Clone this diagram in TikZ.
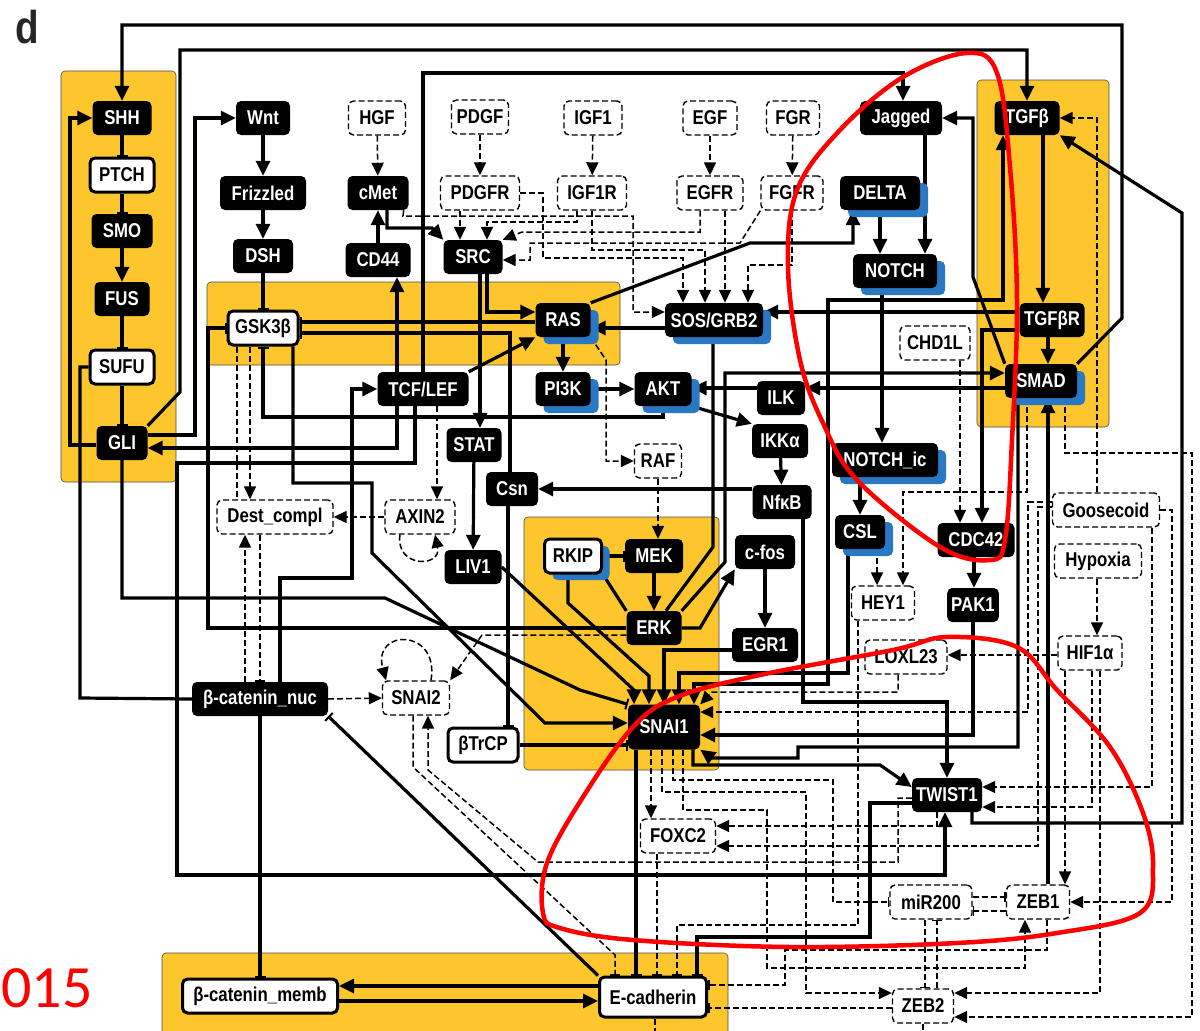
\documentclass[tikz,border=0pt]{standalone}
\usepackage{fontspec}
\setmainfont{Liberation Sans}[FakeStretch=0.84]
\newfontfamily\carl{Carlito}
\usetikzlibrary{arrows.meta,shadows}
\pgfdeclarelayer{bg}\pgfdeclarelayer{edges}\pgfdeclarelayer{fg}
\pgfsetlayers{bg,edges,main,fg}
\definecolor{yel}{RGB}{252,198,44}
\definecolor{shb}{RGB}{40,120,195}
\newcommand\nf{\fontsize{20}{20}\selectfont\bfseries}
\tikzset{
 box/.style={rounded corners=5pt, minimum height=34pt, inner xsep=4pt, inner ysep=0pt, font=\nf},
 blk/.style={box, fill=black, text=white},
 wht/.style={box, fill=white, draw=black, line width=3pt, text=black},
 dsh/.style={box, fill=white, draw=black, line width=1.4pt, dash pattern=on 6pt off 3pt, text=black},
 bsh/.style={drop shadow={shadow xshift=8pt, shadow yshift=-7pt, fill=shb, opacity=1}},
 arr/.style={line width=3.2pt, -{Triangle[length=15pt,width=14pt]}},
 arrtwo/.style={line width=3.2pt, {Triangle[length=15pt,width=14pt]}-{Triangle[length=15pt,width=14pt]}},
 lin/.style={line width=3.2pt},
 inhb/.style={line width=3.2pt, -{Bar[width=11pt,line width=2pt]}},
 darr/.style={line width=1.5pt, dash pattern=on 6pt off 3pt, -{Triangle[length=13pt,width=12pt]}},
 dlin/.style={line width=1.5pt, dash pattern=on 6pt off 3pt},
 dinh/.style={line width=1.5pt, dash pattern=on 6pt off 3pt, -{Bar[width=10pt,line width=1.5pt]}},
 redc/.style={draw=red, line width=4.5pt}
}
\begin{document}
\begin{tikzpicture}[x=1pt,y=-1pt]
\useasboundingbox (0,0) rectangle (1200,1031);
\begin{pgfonlayer}{bg}
\fill[white] (0,0) rectangle (1200,1031);
\filldraw[fill=yel, draw=black!70, line width=0.6pt, rounded corners=4pt] (61,71) rectangle (176,482);
\filldraw[fill=yel, draw=black!70, line width=0.6pt, rounded corners=4pt] (207,282) rectangle (620,365);
\filldraw[fill=yel, draw=black!70, line width=0.6pt, rounded corners=4pt] (524,517) rectangle (719,770);
\filldraw[fill=yel, draw=black!70, line width=0.6pt, rounded corners=4pt] (977,80) rectangle (1109,427);
\filldraw[fill=yel, draw=black!70, line width=0.6pt, rounded corners=4pt] (162,953) rectangle (728,1045);
\end{pgfonlayer}

% nodes
\node[blk,minimum width=59pt] (SHH) at (122,118) {SHH};
\node[wht,minimum width=64pt] (PTCH) at (122,175) {PTCH};
\node[blk,minimum width=61pt] (SMO) at (122,231) {SMO};
\node[blk,minimum width=55pt] (FUS) at (122,299) {FUS};
\node[wht,minimum width=64pt] (SUFU) at (122,367) {SUFU};
\node[blk,minimum width=51pt] (GLI) at (122,443) {GLI};
\node[blk,minimum width=54pt] (Wnt) at (263,118) {Wnt};
\node[blk,minimum width=86pt] (Frz) at (263,193) {Frizzled};
\node[blk,minimum width=60pt] (DSH) at (263,256) {DSH};
\node[wht,minimum width=70pt] (GSK) at (263,328) {GSK3β};
\node[dsh,minimum width=57pt] (HGF) at (377,118) {HGF};
\node[blk,minimum width=61pt] (cMet) at (378,193) {cMet};
\node[blk,minimum width=65pt] (CD44) at (378,260) {CD44};
\node[dsh,minimum width=57pt] (PDGF) at (480,117) {PDGF};
\node[dsh,minimum width=79pt] (PDGFR) at (480,193) {PDGFR};
\node[dsh,minimum width=58pt] (IGF1) at (593,118) {IGF1};
\node[dsh,minimum width=69pt] (IGF1R) at (592,193) {IGF1R};
\node[dsh,minimum width=54pt] (EGF) at (710,118) {EGF};
\node[dsh,minimum width=66pt] (EGFR) at (710,193) {EGFR};
\node[dsh,minimum width=53pt] (FGR) at (793,118) {FGR};
\node[dsh,minimum width=62pt] (FGFR) at (792,193) {FGFR};
\node[blk,minimum width=59pt] (SRC) at (473,257) {SRC};
\node[blk,bsh,minimum width=55pt] (RAS) at (563,320) {RAS};
\node[blk,bsh,minimum width=98pt] (SOS) at (714,320) {SOS/GRB2};
\node[blk,bsh,minimum width=55pt] (PI3K) at (563,389) {PI3K};
\node[blk,bsh,minimum width=57pt] (AKT) at (663,389) {AKT};
\node[blk,minimum width=91pt] (TCF) at (423,389) {TCF/LEF};
\node[blk,minimum width=55pt] (STAT) at (474,445) {STAT};
\node[blk,minimum width=48pt] (ILK) at (781,398) {ILK};
\node[blk,minimum width=56pt] (IKK) at (780,441) {IKKα};
\node[blk,minimum width=59pt] (NFKB) at (782,502) {NfκB};
\node[dsh,minimum width=47pt] (RAF) at (658,461) {RAF};
\node[blk,minimum width=52pt] (Csn) at (512,489) {Csn};
\node[dsh,minimum width=70pt] (AXIN) at (420,517) {AXIN2};
\node[dsh,minimum width=116pt] (Dest) at (275,517) {Dest\_compl};
\node[blk,minimum width=57pt] (LIV) at (473,567) {LIV1};
\node[wht,bsh,minimum width=57pt] (RKIP) at (573,556) {RKIP};
\node[blk,minimum width=58pt] (MEK) at (654,556) {MEK};
\node[blk,minimum width=55pt] (ERK) at (654,628) {ERK};
\node[blk,minimum width=60pt] (cfos) at (765,552) {c-fos};
\node[blk,minimum width=66pt] (EGR) at (765,645) {EGR1};
\node[blk,minimum width=72pt,minimum height=45pt] (SNAIa) at (664,727) {SNAI1};
\node[dsh,minimum width=67pt] (SNAIb) at (416,698) {SNAI2};
\node[wht,minimum width=70pt] (BTrCP) at (483,745) {βTrCP};
\node[dsh,minimum width=75pt] (FOXC) at (678,836) {FOXC2};
\node[wht,minimum width=107pt,minimum height=40pt] (Ecad) at (653,997) {E-cadherin};
\node[blk,minimum width=136pt] (Bcn) at (260,699) {β-catenin\_nuc};
\node[wht,minimum width=155pt] (Bcm) at (260,996) {β-catenin\_memb};
\node[blk,minimum width=70pt] (TWIST) at (947,795) {TWIST1};
\node[dsh,minimum width=82pt] (miR) at (931,902) {miR200};
\node[dsh,minimum width=63pt] (ZEBa) at (1038,902) {ZEB1};
\node[dsh,minimum width=61pt] (ZEBb) at (923,1006) {ZEB2};
\node[blk,minimum width=82pt] (Jag) at (901,118) {Jagged};
\node[blk,bsh,minimum width=80pt] (DELTA) at (880,193) {DELTA};
\node[blk,bsh,minimum width=84pt] (NOTCH) at (895,271) {NOTCH};
\node[blk,minimum width=65pt] (TGFb) at (1027,118) {TGFβ};
\node[blk,minimum width=65pt] (TGFbR) at (1052,320) {TGFβR};
\node[dsh,minimum width=70pt] (CHD) at (935,343) {CHD1L};
\node[blk,bsh,minimum width=72pt] (SMAD) at (1041,381) {SMAD};
\node[blk,bsh,minimum width=106pt] (NIC) at (885,460) {NOTCH\_ic};
\node[blk,bsh,minimum width=50pt] (CSL) at (860,532) {CSL};
\node[blk,minimum width=77pt] (CDC) at (976,540) {CDC42};
\node[dsh,minimum width=63pt] (HEY) at (883,603) {HEY1};
\node[blk,minimum width=51pt] (PAK) at (973,605) {PAK1};
\node[dsh,minimum width=82pt] (LOX) at (906,657) {LOXL23};
\node[dsh,minimum width=64pt] (HIF) at (1090,653) {HIF1α};
\node[dsh,minimum width=87pt] (Hyp) at (1098,561) {Hypoxia};
\node[dsh,minimum width=107pt] (Gsc) at (1106,510) {Goosecoid};
\node[font=\fontsize{46}{46}\selectfont\bfseries, text=black!85] (lbl) at (27,27) {d};
\node[font=\carl\fontsize{60}{60}\selectfont, text=red, inner sep=0pt, anchor=west] (num) at (1,988) {015};

\begin{pgfonlayer}{edges}
% hedgehog
\draw[inhb] (SHH) -- (PTCH);
\draw[inhb] (PTCH) -- (SMO);
\draw[arr] (SMO) -- (FUS);
\draw[inhb] (FUS) -- (SUFU);
\draw[inhb] (SUFU) -- (GLI);
\draw[arr] ([yshift=-2pt]GLI.west) -- (70,445) -- (70,118) -- (SHH.west);
\draw[lin] (SUFU.west) -- (80,367) -- (80,698) -- (Bcn.west);
\draw[arr] (SMAD.north east) -- (1122,318) -- (1122,25) -- (122,25) -- (SHH.north);
\draw[arr] (GLI.north east) -- (180,392) -- (180,50) -- (1027,50) -- (TGFb.north);
\draw[arr] ([yshift=8pt]GLI.east) -- (195,435) -- (195,118) -- (Wnt.west);
% wnt
\draw[arr] (Wnt) -- (Frz);
\draw[arr] (Frz) -- (DSH);
\draw[inhb] (DSH) -- (GSK);
\draw[darr] (HGF) -- (cMet);
\draw[arr] (CD44) -- (cMet);
\draw[arr] ([xshift=9pt]cMet.south) -- (387,228) -- (432,228) -- (SRC.north west);
% TCF
\draw[arr] ([xshift=-26pt]TCF.south) -- (397,448) -- ([yshift=-5pt]GLI.east);
\draw[arr] ([xshift=-8pt]TCF.south) -- (415,463) -- (177,463) -- (177,875) -- (945,875) -- ([xshift=-2pt]TWIST.south);
\draw[arr] (TCF.north) -- (423,73) -- (903,73) -- ([xshift=2pt]Jag.north);
\draw[arr] ([xshift=-26pt]TCF.north) -- ([xshift=19pt]CD44.south);
\draw[arr] (TCF.north east) -- (RAS.south west);
\draw[darr] ([xshift=14pt]TCF.south) -- ([xshift=17pt]AXIN.north);
\draw[arr] ([xshift=20pt]Bcn.north) -- (280,578) -- (352,578) -- (352,389) -- (TCF.west);
% receptors
\draw[darr] (PDGF) -- (PDGFR);
\draw[darr] (IGF1) -- (IGF1R);
\draw[darr] (EGF) -- (EGFR);
\draw[darr] (FGR) -- (FGFR);
\draw[darr] ([xshift=-20pt]PDGFR.south) -- ([xshift=-13pt]SRC.north);
\draw[darr] ([xshift=-15pt]IGF1R.south) -- (577,222) -- (487,222) -- ([xshift=14pt]SRC.north);
\draw[darr] ([xshift=-10pt]EGFR.south) -- (700,232) -- (522,232) -- (SRC.north east);
\draw[darr] (FGFR.south west) -- (740,243) -- (530,243) -- (530,260) -- ([yshift=-3pt]SRC.east);
\draw[darr] (PDGFR.east) -- (543,193) -- (543,258) -- (683,258) -- ([xshift=-31pt]SOS.north);
\draw[darr] (IGF1R.south) -- (592,250) -- (705,250) -- ([xshift=-9pt]SOS.north);
\draw[darr] ([xshift=15pt]EGFR.south) -- ([xshift=11pt]SOS.north);
\draw[darr] (FGFR.south) -- (792,265) -- (748,265) -- ([xshift=34pt]SOS.north);
\draw[darr] ([xshift=-5pt]cMet.south east) -- (403,216) -- (633,216) -- (633,312) -- ([yshift=8pt]SOS.west);
% SRC, RAS, AKT
\draw[arr] ([xshift=14pt]SRC.south) -- (487,312) -- ([yshift=8pt]RAS.west);
\draw[arr] ([xshift=7pt]SRC.south) -- ([xshift=6pt]STAT.north);
\draw[arr] ([yshift=-8pt]SOS.west) -- ([yshift=-8pt]RAS.east);
\draw[arr] ([yshift=8pt]TGFbR.west) -- ([yshift=8pt]SOS.east);
\draw[arr] (RAS.north east) -- (750,243) -- (853,243) -- ([xshift=-27pt]DELTA.south);
\draw[arr] (RAS) -- (PI3K);
\draw[darr] (RAS.south east) -- (606,360) -- (606,461) -- (RAF.west);
\draw[arr] (PI3K) -- (AKT);
\draw[arr] (AKT.south east) -- (IKK.north west);
\draw[inhb] (AKT.south) -- (663,417) -- (263,417) -- (GSK.south);
\draw[arr] (IKK) -- (NFKB);
\draw[arr] ([yshift=13pt]NFKB.west) -- (Csn.east);
\draw[arr] ([xshift=21pt]NFKB.south) -- (803,702) -- (947,702) -- (TWIST.north);
\draw[arr] ([yshift=-7pt]SMAD.west) -- ([yshift=10pt]ILK.east);
\draw[arr] ([yshift=10pt]ILK.west) -- ([yshift=1pt]AKT.east);
\draw[arr] (ERK.north east) -- (725,562) -- (725,373) -- ([yshift=8pt]SMAD.west);
\draw[lin] ([xshift=-1pt]SOS.south) -- (713,547) -- ([xshift=12pt]ERK.north);
% MAPK
\draw[darr] (RAF.south) -- ([xshift=4pt]MEK.north);
\draw[arr] (MEK) -- (ERK);
\draw[inhb] (RKIP) -- (MEK);
\draw[inhb] (ERK.north west) -- (RKIP.south east);
\draw[arr] (ERK.east) -- (700,628) -- (cfos.south west);
\draw[arr] (cfos) -- (EGR);
\draw[arr] ([yshift=-5pt]EGR.west) -- (664,650) -- (SNAIa.north);
\draw[arr] (STAT) -- (LIV);
\draw[arr] (LIV.east) -- (634,690) -- ([xshift=-30pt]SNAIa.north);
\draw[arr] ([xshift=-5pt]RKIP.south) -- (568,603) -- (649,676) -- ([xshift=-15pt]SNAIa.north);
\draw[arr] ([xshift=-12pt]CSL.south) -- (848,673) -- (679,673) -- ([xshift=15pt]SNAIa.north);
\draw[arrtwo] ([xshift=30pt]SNAIa.north) -- (694,684) -- (828,684) -- (828,300) -- (1003,300) -- ([xshift=-24pt]TGFb.south);
\draw[arr] (PAK.south) -- (973,735) -- ([yshift=-8pt]SNAIa.east);
\draw[arr] ([xshift=-23pt]SMAD.south) -- (1018,747) -- (798,747) -- (798,758) -- (712,758) -- (SNAIa.south east);
\draw[arr] ([xshift=29pt]SNAIa.south) -- (693,765) -- (880,765) -- ([yshift=8pt]TWIST.west);
% GSK3b lines
\draw[inhb] ([yshift=-2pt]RAS.west) -- ([yshift=6pt]GSK.east);
\draw[inhb] ([xshift=-2pt]Csn.north) -- (510,333) -- ([yshift=-5pt]GSK.east);
\draw[inhb] ([xshift=-4pt]Csn.south) -- ([xshift=25pt]BTrCP.north);
\draw[inhb] (BTrCP.east) -- ([yshift=-18pt]SNAIa.west);
\draw[inhb] (ERK.west) -- (208,628) -- (208,328) -- (GSK.west);
\draw[arr] ([xshift=30pt]GSK.south) -- (293,483) -- (372,483) -- (372,553) -- (545,723) -- ([yshift=4pt]SNAIa.west);
\draw[inhb] (GLI.south) -- (122,598) -- (385,598) -- (580,690) -- (SNAIa.north west);
% destruction complex
\draw[dlin] ([xshift=-26pt]GSK.south) -- ([xshift=-38pt]Dest.north);
\draw[darr] ([xshift=-13pt]GSK.south) -- ([xshift=-25pt]Dest.north);
\draw[darr] ([xshift=-15pt]Bcn.north) -- ([xshift=-30pt]Dest.south);
\draw[dinh] ([xshift=-15pt]Dest.south) -- (Bcn.north);
\draw[darr] (AXIN.west) -- (Dest.east);
\draw[darr] ([xshift=-20pt]AXIN.south) .. controls (395,568) and (442,568) .. ([xshift=15pt]AXIN.south);
\draw[darr] ([xshift=15pt]SNAIb.north) .. controls (440,628) and (372,628) .. ([xshift=-30pt]SNAIb.north);
% beta-catenin
\draw[darr] (Bcn.east) -- (SNAIb.west);
\draw[inhb] (Bcn.south) -- (Bcm.north);
\draw[inhb] (Ecad.north west) -- (Bcn.south east);
\draw[arr] ([yshift=11pt]Ecad.west) -- ([yshift=10pt]Bcm.east);
\draw[arr] ([yshift=-5pt]Bcm.east) -- ([yshift=-4pt]Ecad.west);
\draw[inhb] ([xshift=-28pt]SNAIa.south) -- ([xshift=-17pt]Ecad.north);
\draw[dinh] ([xshift=-3pt]SNAIb.south) -- (413,767) -- (615,955) -- ([xshift=-38pt]Ecad.north);
\draw[darr] ([yshift=-3pt]TWIST.west) -- (898,798) -- (898,862) -- (538,862) -- (428,770) -- ([xshift=12pt]SNAIb.south);
\draw[darr] ([yshift=-7pt]ERK.west) -- (482,635) -- (SNAIb.north east);
\draw[dinh] ([xshift=-21pt]FOXC.south) -- ([xshift=4pt]Ecad.north);
\draw[inhb] ([yshift=-8pt]TWIST.west) -- (870,803) -- (870,937) -- (697,937) -- ([xshift=44pt]Ecad.north);
% TGF / NOTCH
\draw[arr] (SMAD.north west) -- (973,277) -- (973,118) -- (Jag.east);
\draw[arr] ([xshift=24pt]Jag.south) -- ([xshift=30pt]NOTCH.north);
\draw[arr] (DELTA.south) -- ([xshift=-15pt]NOTCH.north);
\draw[arr] ([xshift=-13pt]NOTCH.south) -- ([xshift=-3pt]NIC.north);
\draw[arr] ([xshift=-25pt]NIC.south) -- (CSL.north);
\draw[darr] ([xshift=17pt]CSL.south) -- ([xshift=-6pt]HEY.north);
\draw[darr] ([xshift=-14pt]SMAD.south) -- (1027,492) -- (903,492) -- ([xshift=20pt]HEY.north);
\draw[darr] ([xshift=25pt]CHD.south) -- ([xshift=-16pt]CDC.north);
\draw[arr] ([yshift=-10pt]TGFbR.west) -- (982,330) -- ([xshift=6pt]CDC.north);
\draw[arr] ([xshift=-2pt]CDC.south) -- ([xshift=1pt]PAK.north);
\draw[arr] ([xshift=16pt]TGFb.south) -- ([xshift=-9pt]TGFbR.north);
\draw[arr] ([xshift=-4pt]TGFbR.south) -- ([xshift=7pt]SMAD.north);
\draw[arr] ([xshift=25pt]TWIST.south) -- (972,823) -- (1182,823) -- (1182,213) -- (TGFb.south east);
\draw[arr] ([xshift=10pt]ZEBa.north) -- ([xshift=7pt]SMAD.south);
\draw[darr] ([xshift=-9pt]Gsc.north) -- (1097,118) -- (TGFb.east);
\draw[darr] ([xshift=24pt]SMAD.south) -- (1065,453) -- (1192,453) -- (1192,1017) -- ([yshift=-11pt]ZEBb.east);
% Goosecoid
\draw[darr] ([yshift=8pt]Gsc.west) -- (1028,502) -- (1028,712) -- ([yshift=15pt]SNAIa.east);
\draw[darr] ([yshift=3pt]Gsc.west) -- (1038,507) -- (1038,846) -- ([yshift=-10pt]FOXC.east);
\draw[darr] ([xshift=46pt]Gsc.south) -- (1152,787) -- ([yshift=8pt]TWIST.east);
\draw[darr] (Gsc.east) -- (1172,510) -- (1172,902) -- (ZEBa.east);
% HIF
\draw[darr] ([xshift=-1pt]Hyp.south) -- ([xshift=7pt]HIF.north);
\draw[darr] ([yshift=-2pt]HIF.west) -- ([yshift=2pt]LOX.east);
\draw[darr] ([xshift=-25pt]HIF.south) -- ([xshift=27pt]ZEBa.north);
\draw[darr] ([xshift=2pt]HIF.south) -- (1092,807) -- ([yshift=-12pt]TWIST.east);
\draw[darr] ([xshift=10pt]HIF.south) -- (1100,993) -- ([yshift=13pt]ZEBb.east);
% LOX, HEY
\draw[darr] ([xshift=-8pt]LOX.south) -- (898,692) -- (712,692) -- (SNAIa.north east);
\draw[dinh] ([xshift=-25pt]HEY.south) -- (858,925) -- (677,925) -- ([xshift=24pt]Ecad.north);
% SNAI1 dashed outputs
\draw[darr] ([xshift=-13pt]SNAIa.south) -- ([xshift=-27pt]FOXC.north);
\draw[darr] ([xshift=-2pt]SNAIa.south) -- (662,792) -- (806,792) -- (806,993) -- ([yshift=13pt]ZEBb.west);
\draw[dinh] ([xshift=9pt]SNAIa.south) -- (673,780) -- (833,780) -- (833,902) -- (miR.west);
\draw[darr] ([xshift=19pt]SNAIa.south) -- (683,810) -- (767,810) -- (767,968) -- (1025,968) -- ([xshift=-13pt]ZEBa.south);
\draw[darr] ([xshift=-10pt]TWIST.south) -- (937,826) -- ([yshift=10pt]FOXC.east);
\draw[dinh] ([xshift=9pt]ZEBa.south) -- (1047,950) -- (785,950) -- (785,985) -- ([yshift=12pt]Ecad.east);
\draw[dinh] ([yshift=-2pt]ZEBb.west) -- ([yshift=-11pt]Ecad.east);
\draw[dinh] ([yshift=5pt]miR.east) -- ([yshift=5pt]ZEBa.west);
\draw[dinh] ([yshift=-9pt]ZEBa.west) -- ([yshift=-9pt]miR.east);
\draw[dinh] ([xshift=-6pt]miR.south) -- ([xshift=2pt]ZEBb.north);
\draw[dinh] ([xshift=14pt]ZEBb.north) -- ([xshift=6pt]miR.south);
\draw[dlin] ([xshift=2pt]Ecad.south) -- ++(0,20);
\draw[dlin] (ZEBb.south) -- ++(0,15);
\end{pgfonlayer}

\begin{pgfonlayer}{fg}
\draw[redc] plot[smooth cycle, tension=0.6] coordinates {(800,360) (788,267) (797,190) (840,130) (903,77) (967,53) (997,73) (1010,167) (1017,300) (1012,440) (1005,540) (990,560) (940,547) (857,480) (823,423)};
\draw[redc] plot[smooth cycle, tension=0.6] coordinates {(677,697) (760,675) (893,650) (947,637) (1017,647) (1057,690) (1110,747) (1143,813) (1153,867) (1140,913) (1057,933) (957,943) (790,947) (633,940) (560,928) (543,913) (547,863) (583,797) (633,727)};
\end{pgfonlayer}
\end{tikzpicture}
\end{document}
